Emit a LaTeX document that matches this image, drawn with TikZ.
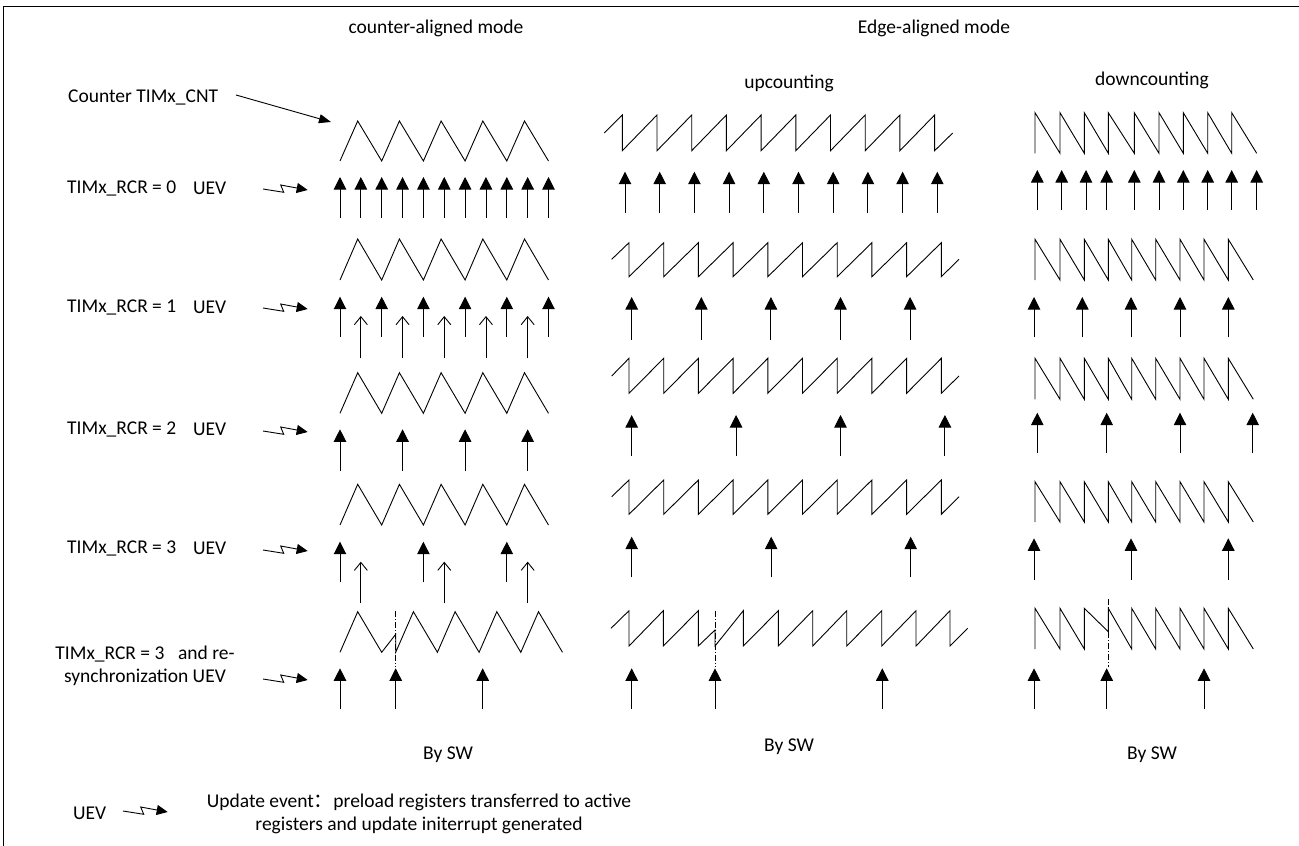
\documentclass[tikz,border=0pt]{standalone}
\usepackage{fontspec}
\setmainfont{Carlito}
\newfontfamily\cjkfont{Noto Sans CJK SC}
\usetikzlibrary{arrows.meta}
\tikzset{
  wave/.style={line width=0.9pt, line join=miter},
  uevarrow/.style={line width=0.9pt, -{Triangle[length=12.5pt,width=12.5pt]}},
  uevopen/.style={line width=0.9pt, -{Straight Barb[length=8pt,width=13pt,line width=0.9pt]}},
  syncline/.style={line width=0.8pt, dash pattern=on 6pt off 2pt on 1pt off 2pt},
  zig/.style={line width=0.9pt, -{Triangle[length=11pt,width=10pt]}},
  txt/.style={font=\fontsize{19.5}{23.3}\selectfont, inner sep=0pt},
  lbl/.style={txt, anchor=west}
}
\newcommand\zigsym[2]{\draw[zig] (#1,#2) -- ++(20.7,3.3) -- ++(-3,-7.3) -- ++(27,5);}
\begin{document}
\begin{tikzpicture}[x=1pt,y=-1pt]
\useasboundingbox (0,0) rectangle (1299,846);
% frame
\draw[line width=0.9pt] (3.5,846) -- (3.5,6.5) -- (1299,6.5);

% titles
\node[txt] (tca) at (436,28) {counter-aligned mode};
\node[txt] (tea) at (934,28) {Edge-aligned mode};
\node[txt] (tup) at (789,83) {upcounting};
\node[txt] (tdn) at (1152,80) {downcounting};

% labels
\node[lbl] (lcnt) at (68,97) {Counter TIMx\_CNT};
\coordinate (cntstart) at (236,95);
\coordinate (cntend) at (331,122);
\draw[line width=0.9pt, -{Triangle[length=12pt,width=9pt]}] (cntstart) -- (cntend);

\node[lbl] (l0) at (67,188) {TIMx\_RCR = 0};
\node[lbl] (u0) at (193,188) {UEV};
\node[lbl] (l1) at (67,307) {TIMx\_RCR = 1};
\node[lbl] (u1) at (193,307) {UEV};
\node[lbl] (l2) at (67,429) {TIMx\_RCR = 2};
\node[lbl] (u2) at (193,429) {UEV};
\node[lbl] (l3) at (67,548) {TIMx\_RCR = 3};
\node[lbl] (u3) at (193,548) {UEV};
\node[txt, align=center] (l4) at (145,666) {TIMx\_RCR = 3\hspace{0.7em}and re-\\synchronization UEV};

\zigsym{263}{189}
\zigsym{263}{308}
\zigsym{263}{431}
\zigsym{263}{550}
\zigsym{263}{679}

% ===== counter-aligned (triangle) =====
\draw[wave] (340,161) \foreach \k in {1,...,5}{ -- ({340+(\k-1)*41.7+17.7},121) -- ({340+\k*41.7},161)};
\draw[wave] (340,280) \foreach \k in {1,...,5}{ -- ({340+(\k-1)*41.7+17.7},239) -- ({340+\k*41.7},280)};
\draw[wave] (340,413.3) \foreach \k in {1,...,5}{ -- ({340+(\k-1)*41.7+17.7},372.7) -- ({340+\k*41.7},413.3)};
\draw[wave] (340,525) \foreach \k in {1,...,5}{ -- ({340+(\k-1)*41.7+17.7},484.3) -- ({340+\k*41.7},525)};
\draw[wave] (340,652.3) -- (357.7,611.7) -- (381.7,652.3) -- (395.7,634.3) -- (395.7,652.3)
  \foreach \k in {1,...,4}{ -- ({395.7+(\k-1)*41.7+17.7},611.7) -- ({395.7+\k*41.7},652.3)};
\draw[syncline] (395.7,611) -- (395.7,666.7);

\foreach \k in {0,...,10} \draw[uevarrow] ({340+\k*20.85},218) -- ({340+\k*20.85},177);
\foreach \k in {0,...,5} \draw[uevarrow] ({340+\k*41.7},336.7) -- ({340+\k*41.7},296.7);
\foreach \k in {0,...,4} \draw[uevopen] ({360.85+\k*41.7},358.3) -- ({360.85+\k*41.7},316);
\foreach \k in {0,...,3} \draw[uevarrow] ({340+\k*62.55},470.7) -- ({340+\k*62.55},429.3);
\foreach \k in {0,...,2} \draw[uevarrow] ({340+\k*83.4},582.3) -- ({340+\k*83.4},541.7);
\foreach \k in {0,...,2} \draw[uevopen] ({360.85+\k*83.4},603.3) -- ({360.85+\k*83.4},561.7);
\foreach \x in {340,395.7,482.7} \draw[uevarrow] (\x,709) -- (\x,668.3);
\node[txt] (sw1) at (448,755) {By SW};

% ===== upcounting (sawtooth) =====
\draw[wave] (604.3,133) \foreach \k in {0,...,9}{ -- ({622.3+\k*34.7},115) -- ({622.3+\k*34.7},150.7)} -- (952.7,133);
\draw[wave] (611.7,259.3) \foreach \k in {0,...,9}{ -- ({629+\k*34.7},242.7) -- ({629+\k*34.7},276.7)} -- (959,259.3);
\draw[wave] (611.7,376) \foreach \k in {0,...,9}{ -- ({629+\k*34.7},358.3) -- ({629+\k*34.7},393.3)} -- (959,376);
\draw[wave] (611.7,496.7) \foreach \k in {0,...,9}{ -- ({629+\k*34.7},480) -- ({629+\k*34.7},514.3)} -- (959,496.7);
\draw[wave] (611,628.3) \foreach \x in {629,663.3,698.3}{ -- (\x,610.7) -- (\x,646)} -- (715,630) -- (715,646)
  \foreach \x in {743.3,778.3,812.7,846.7,881.7,916,950}{ -- (\x,610.7) -- (\x,646)} -- (967.7,628.3);
\draw[syncline] (715,610.7) -- (715,666.7);

\foreach \k in {0,...,9} \draw[uevarrow] ({625+\k*34.7},213.3) -- ({625+\k*34.7},171.7);
\foreach \k in {0,...,4} \draw[uevarrow] ({631.7+\k*69.6},340) -- ({631.7+\k*69.6},297);
\foreach \k in {0,...,3} \draw[uevarrow] ({631.7+\k*104.4},456) -- ({631.7+\k*104.4},415);
\foreach \k in {0,...,2} \draw[uevarrow] ({631.7+\k*139.5},577.3) -- ({631.7+\k*139.5},536.7);
\foreach \x in {631.7,715,882.3} \draw[uevarrow] (\x,709) -- (\x,668.3);
\node[txt] (sw2) at (789,747) {By SW};

% ===== downcounting (sawtooth) =====
\draw[wave] (1035,153.3) -- (1035,112.7) \foreach \x in {1060,1084.3,1108.3,1134.3,1159,1183.3,1207.7,1231.7}{ -- (\x,153.3) -- (\x,112.7)} -- (1256.7,153.3);
\draw[wave] (1035,280) -- (1035,239.3) \foreach \x in {1060,1084.3,1108.3,1131.7,1155.7,1180,1204,1228.3}{ -- (\x,280) -- (\x,239.3)} -- (1253.3,280);
\draw[wave] (1035,399.3) -- (1035,358.3) \foreach \x in {1060,1084.3,1108.3,1131.7,1155.7,1180,1204,1228.3}{ -- (\x,399.3) -- (\x,358.3)} -- (1253.3,399.3);
\draw[wave] (1035,522) -- (1035,481.7) \foreach \x in {1060,1084.3,1108.3,1131.7,1155.7,1180,1204,1228.3}{ -- (\x,522) -- (\x,481.7)} -- (1253.3,522);
\draw[wave] (1035,649) -- (1035,608.3) \foreach \x in {1060,1084.3}{ -- (\x,649) -- (\x,608.3)} -- (1108.3,631.7) -- (1108.3,608.3)
  \foreach \x in {1131.7,1155.7,1180,1204,1228.3}{ -- (\x,649) -- (\x,608.3)} -- (1253.3,649);
\draw[syncline] (1108.3,599) -- (1108.3,666.7);

\foreach \x in {1037.3,1061.7,1086,1106.7,1134.3,1159,1183.3,1207.7,1231.7,1256.7} \draw[uevarrow] (\x,210) -- (\x,170);
\foreach \x in {1034,1082.3,1131,1180,1228.3} \draw[uevarrow] (\x,337.3) -- (\x,297);
\foreach \x in {1037.3,1106.7,1180,1252.7} \draw[uevarrow] (\x,453.3) -- (\x,412.7);
\foreach \x in {1034,1131,1228.3} \draw[uevarrow] (\x,580) -- (\x,538.3);
\foreach \x in {1034,1106.7,1204} \draw[uevarrow] (\x,709) -- (\x,668.3);
\node[txt] (sw3) at (1152,755) {By SW};

% ===== legend =====
\node[lbl] (luev) at (73,813) {UEV};
\zigsym{123}{811}
\node[txt, align=center] (ltxt) at (419,814) {Update event{\cjkfont ：}preload registers transferred to active\\registers and update initerrupt generated};
\end{tikzpicture}
\end{document}
